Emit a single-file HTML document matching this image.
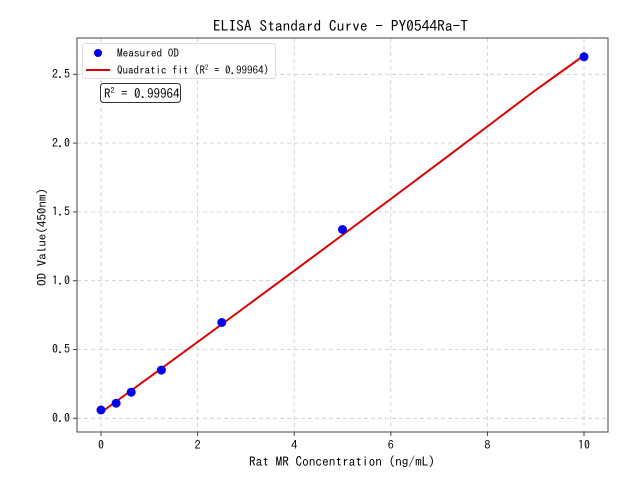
<!DOCTYPE html>
<html><head><style>
body{margin:0;background:#fff}
svg text{font-family:"WenQuanYi Zen Hei Mono","IPAGothic","WenQuanYi Zen Hei",monospace;fill:#000}
</style></head><body>
<svg width="640" height="480" viewBox="0 0 640 480" xmlns="http://www.w3.org/2000/svg">
<rect width="640" height="480" fill="#fff"/>
<g stroke="#cccccc" stroke-width="0.8" stroke-dasharray="4,3">
<line x1="101" y1="38" x2="101" y2="432"/><line x1="197.6" y1="38" x2="197.6" y2="432"/><line x1="294.2" y1="38" x2="294.2" y2="432"/><line x1="390.8" y1="38" x2="390.8" y2="432"/><line x1="487.4" y1="38" x2="487.4" y2="432"/><line x1="584" y1="38" x2="584" y2="432"/>
<line x1="77" y1="418.3" x2="608" y2="418.3"/><line x1="77" y1="349.5" x2="608" y2="349.5"/><line x1="77" y1="280.7" x2="608" y2="280.7"/><line x1="77" y1="211.9" x2="608" y2="211.9"/><line x1="77" y1="143.1" x2="608" y2="143.1"/><line x1="77" y1="74.3" x2="608" y2="74.3"/>
</g>
<polyline fill="none" stroke="#dd0000" stroke-width="2" points="101,412.5 149.3,377.3 197.6,342 245.9,306.5 294.2,270.8 342.5,235 390.8,199 439.1,162.8 487.4,126.5 535.7,90 584,55.5"/>
<g fill="#0000ee">
<circle cx="101" cy="410" r="4.5"/><circle cx="116.1" cy="403.2" r="4.5"/><circle cx="131.2" cy="392.2" r="4.5"/><circle cx="161.4" cy="370.1" r="4.5"/><circle cx="221.8" cy="322.5" r="4.5"/><circle cx="342.5" cy="229.5" r="4.5"/><circle cx="584" cy="56.8" r="4.5"/>
</g>
<rect x="77" y="38" width="531" height="394" fill="none" stroke="#444" stroke-width="1"/>
<g stroke="#444">
<line x1="101" y1="432" x2="101" y2="436"/><line x1="197.6" y1="432" x2="197.6" y2="436"/><line x1="294.2" y1="432" x2="294.2" y2="436"/><line x1="390.8" y1="432" x2="390.8" y2="436"/><line x1="487.4" y1="432" x2="487.4" y2="436"/><line x1="584" y1="432" x2="584" y2="436"/>
<line x1="73" y1="418.3" x2="77" y2="418.3"/><line x1="73" y1="349.5" x2="77" y2="349.5"/><line x1="73" y1="280.7" x2="77" y2="280.7"/><line x1="73" y1="211.9" x2="77" y2="211.9"/><line x1="73" y1="143.1" x2="77" y2="143.1"/><line x1="73" y1="74.3" x2="77" y2="74.3"/>
</g>
<g font-size="12" text-anchor="middle">
<text x="101" y="449">0</text><text x="197.6" y="449">2</text><text x="294.2" y="449">4</text><text x="390.8" y="449">6</text><text x="487.4" y="449">8</text><text x="584" y="449">10</text>
</g>
<g font-size="12" text-anchor="end">
<text x="70" y="422">0.0</text><text x="70" y="353">0.5</text><text x="70" y="284.5">1.0</text><text x="70" y="215.5">1.5</text><text x="70" y="147">2.0</text><text x="70" y="78">2.5</text>
</g>
<text x="249" y="466" font-size="13" textLength="186" lengthAdjust="spacingAndGlyphs">Rat MR Concentration (ng/mL)</text>
<text transform="translate(46,286) rotate(-90)" font-size="12" textLength="98" lengthAdjust="spacingAndGlyphs">OD Value(450nm)</text>
<text x="213" y="31" font-size="15" textLength="255" lengthAdjust="spacingAndGlyphs">ELISA Standard Curve - PY0544Ra-T</text>
<rect x="82.5" y="43.5" width="193" height="35" rx="2" fill="#fff" fill-opacity="0.85" stroke="#ddd"/>
<circle cx="98" cy="53" r="4" fill="#0000ee"/>
<text x="117" y="57" font-size="11" textLength="62" lengthAdjust="spacingAndGlyphs">Measured OD</text>
<line x1="86" y1="70" x2="110" y2="70" stroke="#dd0000" stroke-width="2"/>
<text x="117" y="74" font-size="11">Quadratic fit (R<tspan font-size="7" dy="-4">2</tspan><tspan dy="4"> = 0.99964)</tspan></text>
<rect x="100.5" y="83.5" width="80" height="19" rx="3" fill="#fff" stroke="#333"/>
<text x="104" y="98" font-size="13">R<tspan font-size="8" dy="-5">2</tspan><tspan dy="5"> = 0.99964</tspan></text>
</svg>
</body></html>
